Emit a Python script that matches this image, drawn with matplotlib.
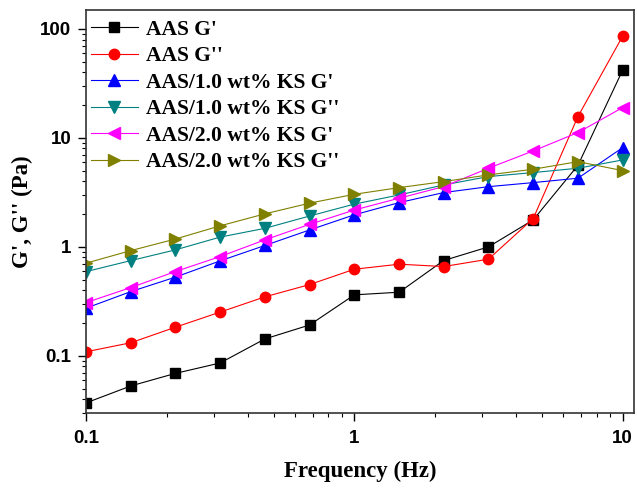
import matplotlib
matplotlib.use("Agg")
import matplotlib.pyplot as plt
from matplotlib.ticker import LogLocator, NullFormatter, FixedLocator, FixedFormatter

freq = [0.1, 0.147, 0.215, 0.316, 0.464, 0.681, 1.0, 1.47, 2.15, 3.16, 4.64, 6.81, 10.0]

aas_g1 = [0.037, 0.053, 0.069, 0.086, 0.143, 0.192, 0.363, 0.384, 0.749, 1.0, 1.77, 5.6, 42.0]
aas_g2 = [0.109, 0.132, 0.183, 0.252, 0.348, 0.451, 0.624, 0.694, 0.66, 0.771, 1.82, 15.7, 86.0]
ks1_g1 = [0.274, 0.389, 0.527, 0.744, 1.03, 1.43, 1.97, 2.55, 3.15, 3.57, 3.89, 4.27, 8.15]
ks1_g2 = [0.593, 0.749, 0.938, 1.23, 1.48, 1.92, 2.47, 3.0, 3.7, 4.42, 4.81, 5.27, 6.28]
ks2_g1 = [0.308, 0.424, 0.593, 0.815, 1.16, 1.61, 2.18, 2.8, 3.57, 5.27, 7.6, 11.2, 19.0]
ks2_g2 = [0.709, 0.925, 1.18, 1.56, 2.01, 2.52, 3.04, 3.5, 3.97, 4.58, 5.16, 6.06, 5.01]

labels = ["AAS G'", "AAS G''", "AAS/1.0 wt% KS G'", "AAS/1.0 wt% KS G''",
          "AAS/2.0 wt% KS G'", "AAS/2.0 wt% KS G''"]
series = [aas_g1, aas_g2, ks1_g1, ks1_g2, ks2_g1, ks2_g2]
colors = ["black", "red", "blue", "#008080", "magenta", "#808000"]
markers = ["s", "o", "^", "v", "<", ">"]
msizes = [7, 7.5, 8, 8, 8, 8]

fig = plt.figure(figsize=(6.37, 4.88), dpi=100)
ax = fig.add_axes([0.135, 0.154, 0.86, 0.826])

for y, lab, c, m, ms in zip(series, labels, colors, markers, msizes):
    ax.plot(freq, y, color=c, marker=m, markersize=ms, linewidth=0.8, label=lab)

ax.set_xscale("log")
ax.set_yscale("log")
ax.set_xlim(0.1, 11.0)
ax.set_ylim(0.03, 150)

ax.yaxis.set_major_locator(FixedLocator([0.1, 1, 10, 100]))
ax.yaxis.set_major_formatter(FixedFormatter(["0.1", "1", "10", "100"]))
ax.xaxis.set_major_locator(FixedLocator([0.1, 1, 10]))
ax.xaxis.set_major_formatter(FixedFormatter(["0.1", "1", "10"]))
ax.xaxis.set_minor_locator(LogLocator(base=10, subs=range(2, 10)))
ax.yaxis.set_minor_locator(LogLocator(base=10, subs=range(2, 10)))
ax.xaxis.set_minor_formatter(NullFormatter())
ax.yaxis.set_minor_formatter(NullFormatter())

ax.tick_params(which="major", direction="out", length=6, width=1.0,
               top=False, right=False)
ax.tick_params(which="minor", direction="out", length=3, width=0.8,
               top=False, right=False)
ax.tick_params(axis="x", which="major", pad=6.5)
ax.tick_params(axis="y", which="major", pad=4.5)
for lab in ax.get_xticklabels() + ax.get_yticklabels():
    lab.set_fontfamily("Liberation Sans")
    lab.set_fontweight("bold")
    lab.set_fontsize(13.5)

for sp in ax.spines.values():
    sp.set_linewidth(1.2)
    sp.set_color("#333333")

ax.set_xlabel("Frequency (Hz)", fontfamily="Liberation Serif", fontweight="bold",
              fontsize=16.5, labelpad=10)
ax.set_ylabel("G', G'' (Pa)", fontfamily="Liberation Serif", fontweight="bold",
              fontsize=16.5, labelpad=5)

ax.legend(loc="upper left", bbox_to_anchor=(-0.009, 1.0), frameon=False,
          handlelength=2.2,
          prop={"family": "Liberation Serif", "weight": "bold", "size": 15.5},
          labelspacing=0.3, borderaxespad=0.05, handletextpad=0.35)

fig.savefig("out.png", dpi=100)
